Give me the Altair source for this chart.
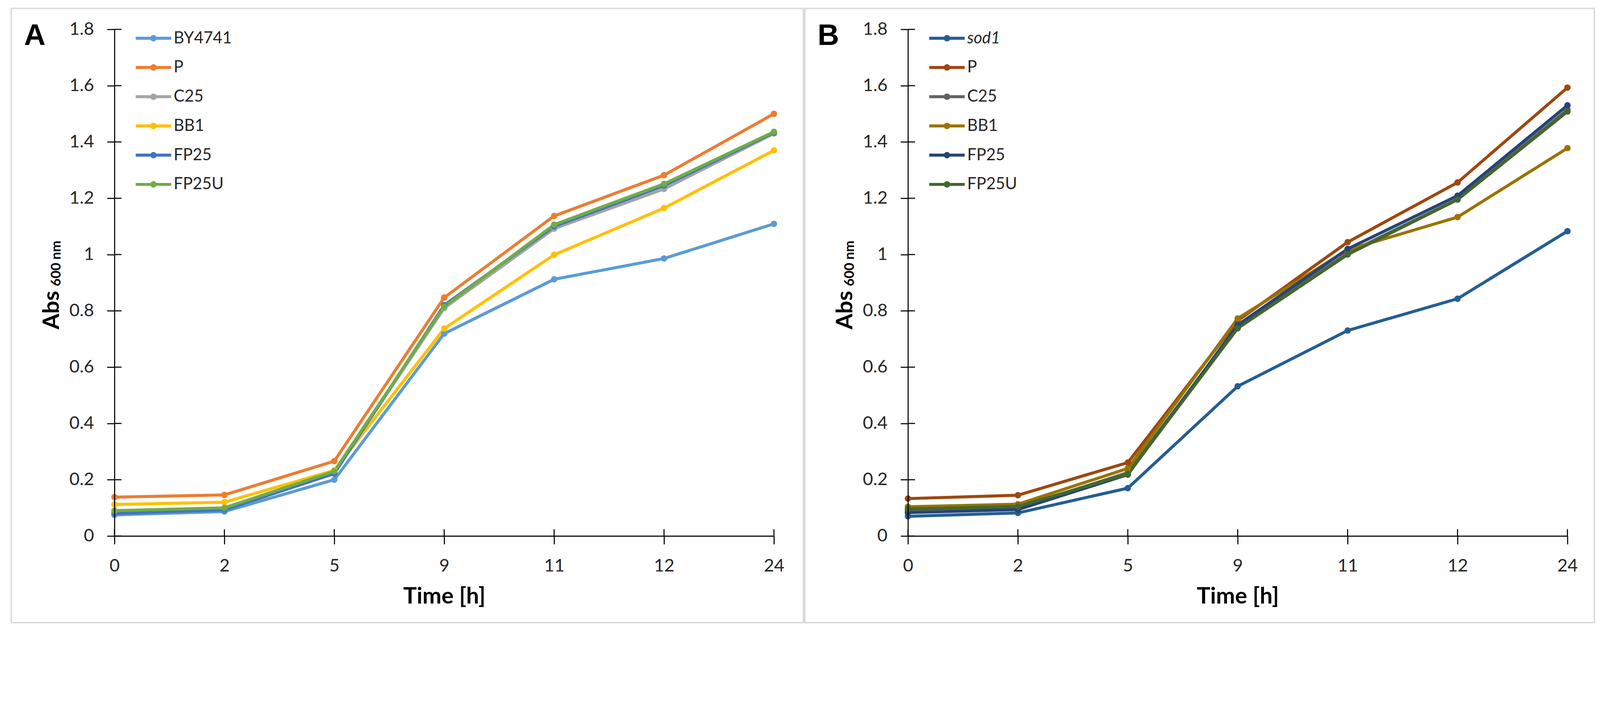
import altair as alt
import pandas as pd

times = [0, 2, 5, 9, 11, 12, 24]
y_ticks = [0, 0.2, 0.4, 0.6, 0.8, 1.0, 1.2, 1.4, 1.6, 1.8]

names_a = ["BY4741", "P", "C25", "BB1", "FP25", "FP25U"]
colors_a = ["#5B9BD5", "#ED7D31", "#A5A5A5", "#FFC000", "#4472C4", "#70AD47"]
a_BY4741 = [0.075, 0.087, 0.200, 0.719, 0.912, 0.986, 1.109]
a_P = [0.138, 0.146, 0.266, 0.847, 1.137, 1.282, 1.500]
a_C25 = [0.085, 0.098, 0.225, 0.810, 1.092, 1.233, 1.430]
a_BB1 = [0.112, 0.120, 0.233, 0.737, 0.999, 1.165, 1.370]
a_FP25 = [0.080, 0.093, 0.222, 0.820, 1.100, 1.245, 1.433]
a_FP25U = [0.090, 0.100, 0.230, 0.815, 1.106, 1.251, 1.436]

names_b = ["sod1", "P ", "C25 ", "BB1 ", "FP25 ", "FP25U "]
labels_b = ["sod1", "P", "C25", "BB1", "FP25", "FP25U"]
colors_b = ["#255E91", "#9E480E", "#636363", "#997300", "#264478", "#43682B"]
b_sod1 = [0.070, 0.082, 0.170, 0.532, 0.730, 0.843, 1.083]
b_P = [0.133, 0.145, 0.261, 0.765, 1.044, 1.256, 1.593]
b_C25 = [0.088, 0.100, 0.225, 0.745, 1.005, 1.197, 1.515]
b_BB1 = [0.104, 0.113, 0.240, 0.773, 1.017, 1.133, 1.378]
b_FP25 = [0.083, 0.094, 0.218, 0.750, 1.020, 1.209, 1.530]
b_FP25U = [0.096, 0.105, 0.220, 0.738, 1.000, 1.195, 1.508]

W = 1860
H = 1428
FONT = "Lato"


def panel(names, labels, colors, series, letter, italic_first, frame_x2):
    rows = []
    for n, vals in zip(names, series):
        for t, v in zip(times, vals):
            rows.append({"name": n, "time": t, "value": v})
    df = pd.DataFrame(rows)

    color = alt.Color("name:N", scale=alt.Scale(domain=names, range=colors), legend=None)
    x_axis = alt.Axis(
        title="Time [h]", labelAngle=0, grid=False, zindex=1,
        domainColor="black", domainWidth=3, tickColor="black", tickWidth=3, tickSize=23,
        labelFont=FONT, labelFontSize=50, labelColor="#262626", labelPadding=36,
        titleFont=FONT, titleFontSize=64, titleFontWeight="bold", titleColor="black",
        titlePadding=30,
    )
    x_enc = alt.X("time:O", sort=times, scale=alt.Scale(type="point", padding=0), axis=x_axis)
    y_scale = alt.Scale(domain=[0, 1.8], nice=False, zero=False)
    y_axis = alt.Axis(
        values=y_ticks, title=None, grid=False, zindex=1,
        labelExpr="format(datum.value, '~g')",
        domainColor="black", domainWidth=3, tickColor="black", tickWidth=3, tickSize=21,
        labelFont=FONT, labelFontSize=50, labelColor="#262626", labelPadding=37,
    )

    one = pd.DataFrame({"k": [0]})
    frame = alt.Chart(one).mark_rect(
        fill="white", fillOpacity=1, stroke="#d9d9d9", strokeWidth=4
    ).encode(
        x=alt.value(-291), x2=alt.value(frame_x2), y=alt.value(-59), y2=alt.value(1672)
    )

    base = alt.Chart(df)
    lines = base.mark_line(strokeWidth=8.5).encode(
        x=x_enc, y=alt.Y("value:Q", scale=y_scale, axis=y_axis), color=color
    )
    points = base.mark_point(filled=True, size=330, opacity=1).encode(
        x=x_enc, y=alt.Y("value:Q", scale=y_scale, axis=None), color=color
    )

    yt = alt.Chart(pd.DataFrame({"v": y_ticks})).mark_rule(color="black", strokeWidth=3).encode(
        y=alt.Y("v:Q", scale=y_scale, axis=None), x=alt.value(0), x2=alt.value(20)
    )
    xt = alt.Chart(pd.DataFrame({"time": times})).mark_rule(color="black", strokeWidth=3).encode(
        x=x_enc, y=alt.value(H - 19), y2=alt.value(H)
    )

    leg_df = pd.DataFrame({"name": names, "label": labels})
    leg_y = alt.Y("name:N", sort=names,
                  scale=alt.Scale(type="point", domain=names, range=[25, 437], padding=0),
                  axis=None)
    leg_line = alt.Chart(leg_df).mark_rule(strokeWidth=8.5).encode(
        x=alt.value(60), x2=alt.value(160), y=leg_y, color=color
    )
    leg_pt = alt.Chart(leg_df).mark_point(filled=True, size=330, opacity=1).encode(
        x=alt.value(110), y=leg_y, color=color
    )
    txt_kw = dict(align="left", baseline="middle", font=FONT, fontSize=46, color="#262626")
    if italic_first:
        leg_txt1 = alt.Chart(leg_df).transform_filter(alt.datum.name == names[0]).mark_text(
            fontStyle="italic", **txt_kw).encode(x=alt.value(167), y=leg_y, text="label:N")
        leg_txt2 = alt.Chart(leg_df).transform_filter(alt.datum.name != names[0]).mark_text(
            **txt_kw).encode(x=alt.value(167), y=leg_y, text="label:N")
        leg_txts = [leg_txt1, leg_txt2]
    else:
        leg_txts = [alt.Chart(leg_df).mark_text(**txt_kw).encode(
            x=alt.value(167), y=leg_y, text="label:N")]

    letter_t = alt.Chart(pd.DataFrame({"t": [letter]})).mark_text(
        font="Liberation Sans", fontSize=84, fontWeight="bold", align="left",
        baseline="alphabetic", color="black"
    ).encode(x=alt.value(-255), y=alt.value(44), text="t:N")

    abs_t = alt.Chart(pd.DataFrame({"t": ["Abs"]})).mark_text(
        font=FONT, fontSize=64, fontWeight="bold", angle=270, align="right",
        baseline="alphabetic", color="black"
    ).encode(x=alt.value(-157), y=alt.value(737), text="t:N")
    sub_t = alt.Chart(pd.DataFrame({"t": ["600 nm"]})).mark_text(
        font=FONT, fontSize=38, fontWeight="bold", angle=270, align="left",
        baseline="alphabetic", color="black"
    ).encode(x=alt.value(-152), y=alt.value(724), text="t:N")

    layers = [frame, lines, points, yt, xt, leg_line, leg_pt] + leg_txts + [letter_t, abs_t, sub_t]
    return alt.layer(*layers).resolve_scale(y="independent").properties(width=W, height=H)


pA = panel(names_a, names_a, colors_a, [a_BY4741, a_P, a_C25, a_BB1, a_FP25, a_FP25U], "A", False, 1943)
pB = panel(names_b, labels_b, colors_b, [b_sod1, b_P, b_C25, b_BB1, b_FP25, b_FP25U], "B", True, 1936)

chart = alt.hconcat(pA, pB, spacing=0).resolve_scale(color="independent").properties(
    padding={"left": 21, "top": -69, "right": 5, "bottom": -55},
    background="white",
).configure_view(strokeWidth=0)

chart.save("out.html", embed_options={"renderer": "svg", "actions": False})
